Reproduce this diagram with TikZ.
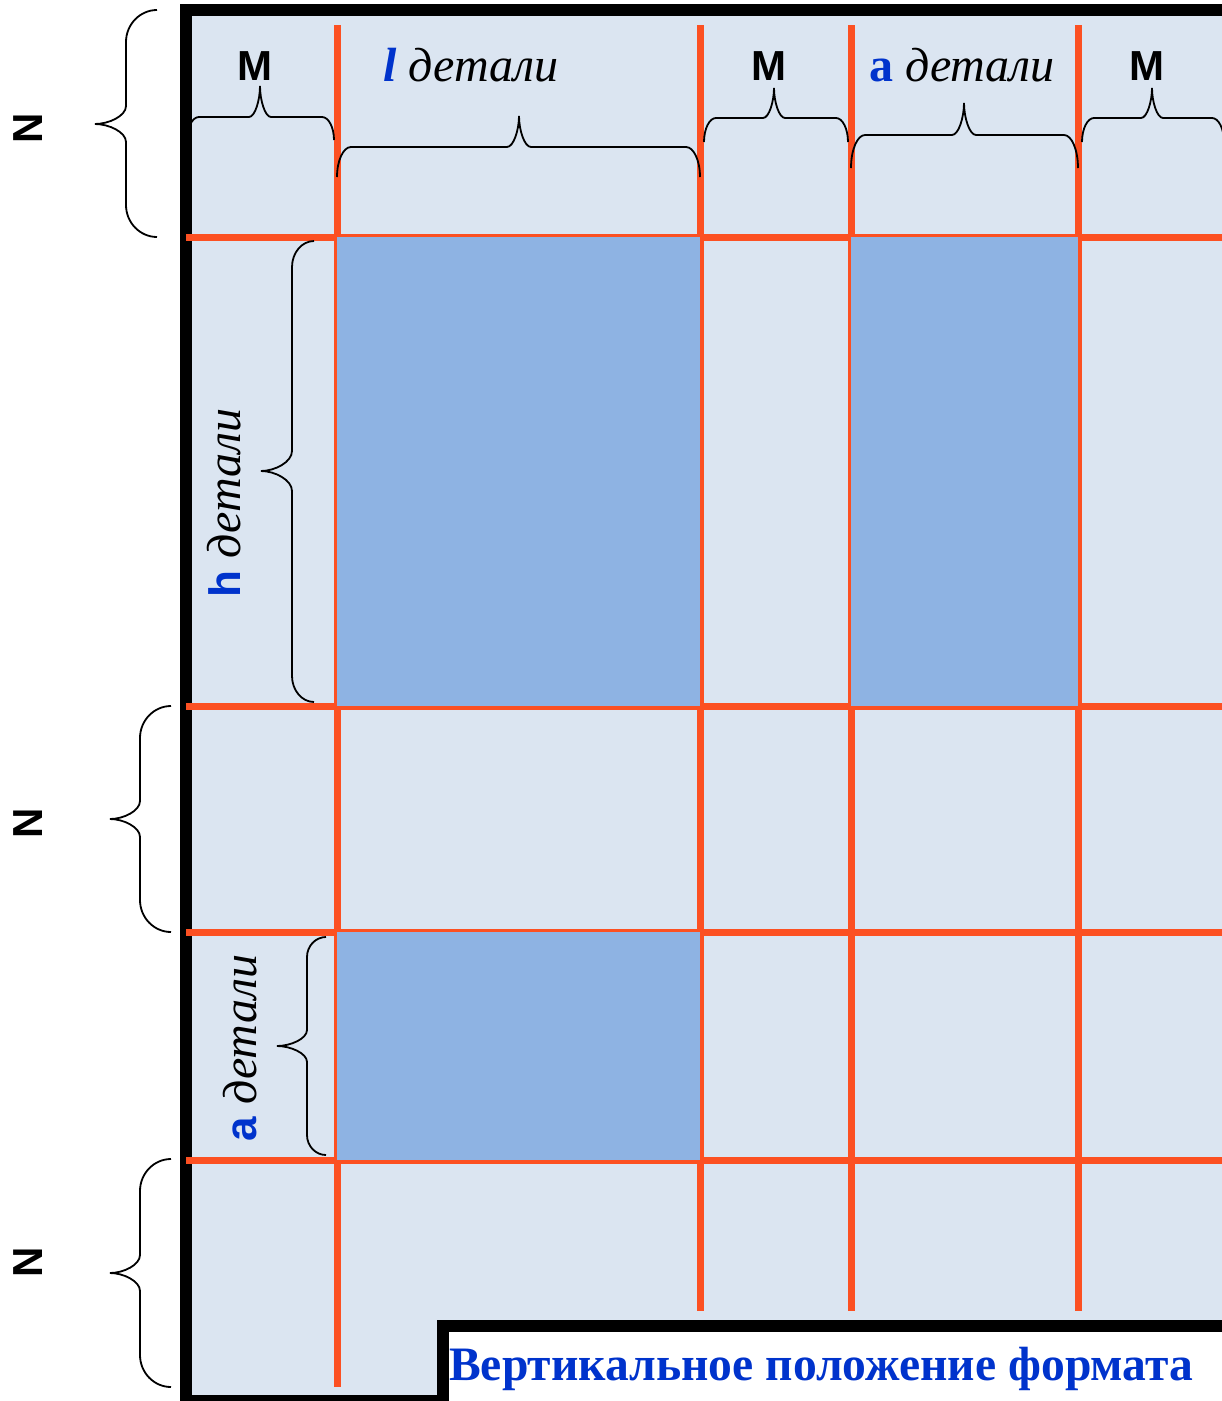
\documentclass[tikz,border=0pt]{standalone}
\usepackage{fontspec}
\usepackage{graphicx}
\setmainfont{Liberation Serif}
\newfontfamily\sansf{Liberation Sans}
\definecolor{lightfill}{HTML}{DBE5F1}
\definecolor{darkfill}{HTML}{8EB3E3}
\definecolor{gridor}{HTML}{FC5022}
\definecolor{labblue}{HTML}{0033CC}
\tikzset{
  gridline/.style={draw=gridor, line width=7pt},
  darkcell/.style={fill=darkfill, draw=none},
  bracestyle/.style={draw=black, line width=1.8pt},
  sidelabel/.style={font={\sansf\bfseries\fontsize{42pt}{42pt}\selectfont}, inner sep=0pt},
  toplabel/.style={font={\fontsize{48pt}{48pt}\selectfont}, inner sep=0pt, anchor=base},
  rotlabel/.style={font={\fontsize{48pt}{48pt}\selectfont}, inner sep=0pt, anchor=base, rotate=90},
}
% vertical brace, tip to the left: #1 end x, #2 straight x, #3 tip x, #4 top y, #5 tip y, #6 bottom y, #7 end length, #8 tip length
\newcommand{\VBrace}[8]{%
  \draw[bracestyle] (#1,#4) .. controls ({#2+0.45*(#1-#2)},#4) and (#2,{#4+0.45*#7}) .. (#2,{#4+#7})
    -- (#2,{#5-#8}) .. controls (#2,{#5-0.45*#8}) and ({#3+0.45*(#2-#3)},#5) .. (#3,#5)
    .. controls ({#3+0.45*(#2-#3)},#5) and (#2,{#5+0.45*#8}) .. (#2,{#5+#8})
    -- (#2,{#6-#7}) .. controls (#2,{#6-0.45*#7}) and ({#2+0.45*(#1-#2)},#6) .. (#1,#6);}
% horizontal brace, tip up: #1 end y, #2 straight y, #3 tip y, #4 left x, #5 tip x, #6 right x, #7 end length, #8 tip length
\newcommand{\HBrace}[8]{%
  \draw[bracestyle] (#4,#1) .. controls (#4,{#2+0.45*(#1-#2)}) and ({#4+0.45*#7},#2) .. ({#4+#7},#2)
    -- ({#5-#8},#2) .. controls ({#5-0.45*#8},#2) and (#5,{#3+0.45*(#2-#3)}) .. (#5,#3)
    .. controls (#5,{#3+0.45*(#2-#3)}) and ({#5+0.45*#8},#2) .. ({#5+#8},#2)
    -- ({#6-#7},#2) .. controls ({#6-0.45*#7},#2) and (#6,{#2+0.45*(#1-#2)}) .. (#6,#1);}
\begin{document}
\begin{tikzpicture}[x=1pt,y=-1pt]
\useasboundingbox (0,0) rectangle (1222,1401);
\clip (0,0) rectangle (1222,1401);
% sheet
\draw[fill=lightfill, draw=black, line width=12pt] (186,10) rectangle (1250,1401);
% grid lines
\draw[gridline] (337,25) -- (337,1387);
\draw[gridline] (700,25) -- (700,1311);
\draw[gridline] (851,25) -- (851,1311);
\draw[gridline] (1078,25) -- (1078,1311);
\draw[gridline] (186,237) -- (1230,237);
\draw[gridline] (186,706) -- (1230,706);
\draw[gridline] (186,932) -- (1230,932);
\draw[gridline] (186,1160) -- (1230,1160);
% parts
\fill[darkcell] (337,237) rectangle (700,706);
\fill[darkcell] (851,237) rectangle (1078,706);
\fill[darkcell] (337,932) rectangle (700,1160);
% braces outside
\VBrace{157}{126}{95}{10}{124}{237}{32}{18}
\VBrace{171}{140}{110}{706}{819}{932}{32}{18}
\VBrace{171}{140}{110}{1159}{1273}{1387}{32}{18}
% braces inside, vertical
\VBrace{314}{292}{261}{241}{471}{702}{26}{20}
\VBrace{326}{307}{277}{937}{1046}{1155}{20}{16}
% braces on top
\HBrace{140}{117}{86}{187}{260}{334}{12}{11}
\HBrace{177}{147}{116}{337}{519}{700}{14}{12}
\HBrace{142}{118}{88}{704}{774}{848}{12}{11}
\HBrace{168}{135}{103}{851}{964}{1078}{14}{12}
\HBrace{142}{118}{88}{1082}{1152}{1224}{12}{11}
% side labels
\node[sidelabel, rotate=90] (n1) at (28,128) {N};
\node[sidelabel, rotate=90] (n2) at (28,823) {N};
\node[sidelabel, rotate=90] (n3) at (28,1262) {N};
% top labels
\node[sidelabel, anchor=base] (m1) at (255,80) {M};
\node[sidelabel, anchor=base] (m2) at (769,80) {M};
\node[sidelabel, anchor=base] (m3) at (1147,80) {M};
\node[toplabel] (ldet) at (471,81) {{\color{labblue}\bfseries\itshape l} \itshape детали};
\node[toplabel] (adet) at (962,81) {{\color{labblue}\bfseries a} \itshape детали};
% rotated labels
\node[rotlabel] (hdet) at (240,503) {{\color{labblue}\sansf\bfseries\fontsize{44pt}{44pt}\selectfont h} \itshape детали};
\node[rotlabel] (adetv) at (256,1048) {{\color{labblue}\sansf\bfseries\fontsize{44pt}{44pt}\selectfont a} \itshape детали};
% title box
\draw[fill=white, draw=black, line width=12pt] (443,1326) rectangle (1250,1410);
\node[anchor=base west, inner sep=0pt, text=labblue, font={\bfseries\fontsize{48pt}{48pt}\selectfont}] (title) at (449,1380) {\resizebox{744pt}{\height}{Вертикальное положение формата}};
\end{tikzpicture}
\end{document}
